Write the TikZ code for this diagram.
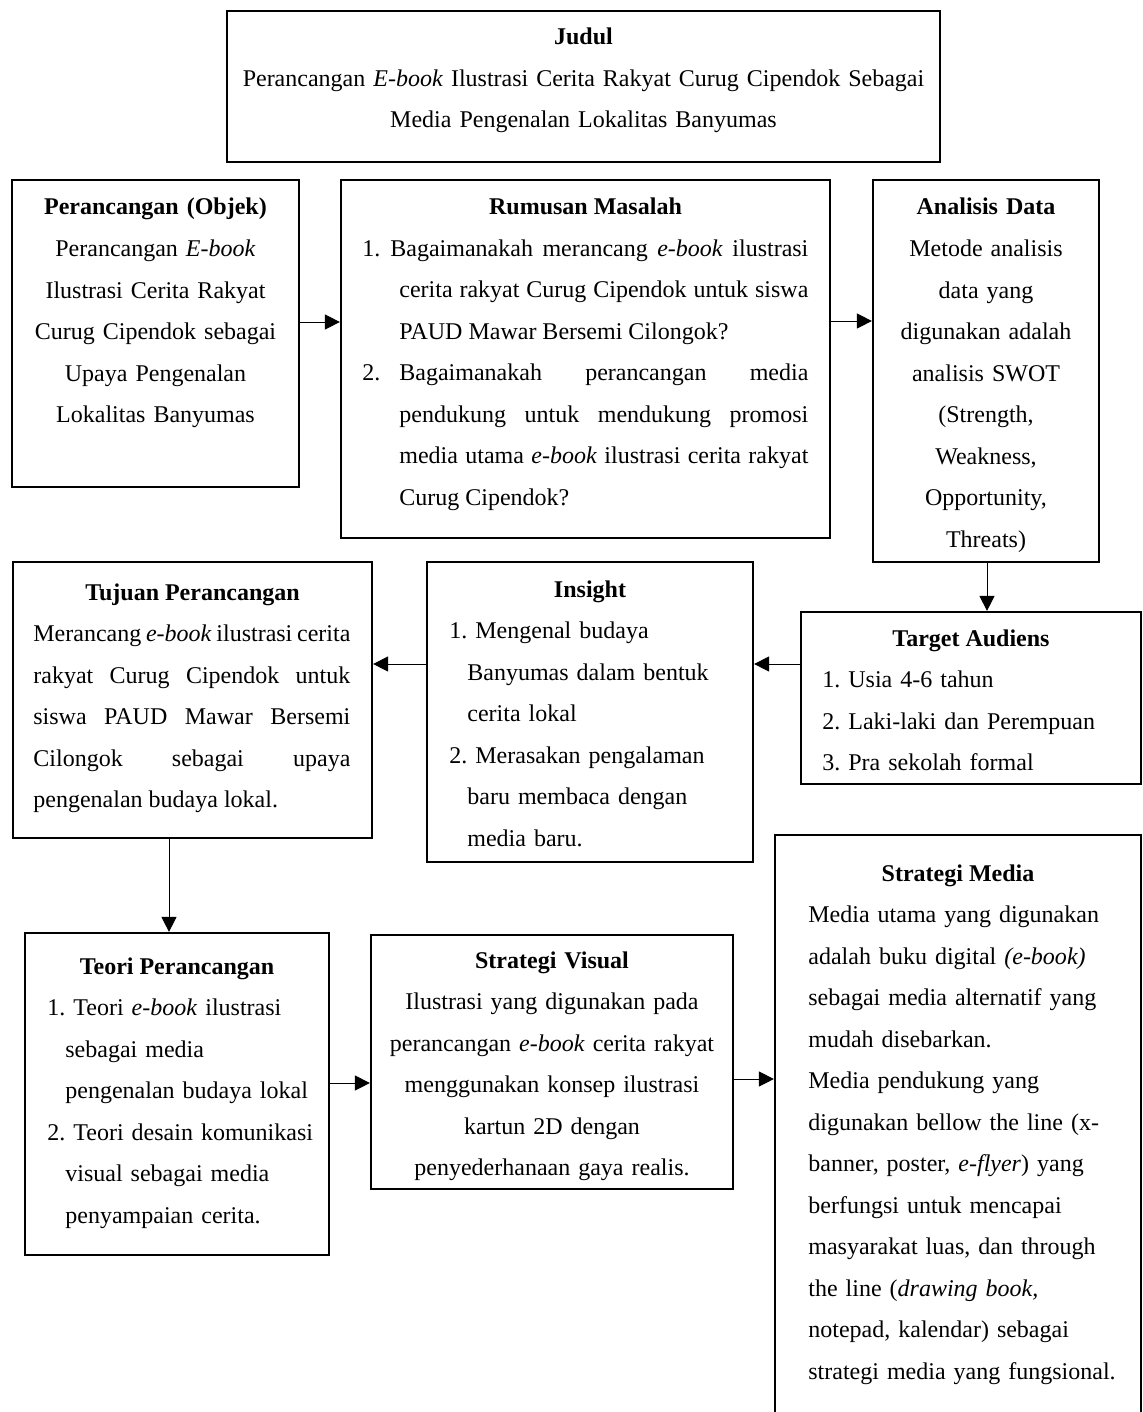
\documentclass[tikz,border=0pt]{standalone}
\usepackage{fontspec}
\setmainfont{Liberation Serif}
\usetikzlibrary{arrows.meta,fit}
\hyphenpenalty=10000
\tolerance=9999
\frenchspacing

\tikzset{
  kotak/.style={draw, line width=1.1pt, inner sep=0pt},
  isi/.style={inner sep=0pt, font=\fontsize{12pt}{20.75pt}\selectfont},
  kepala/.style={inner sep=0pt, anchor=base, font=\fontsize{12pt}{20.75pt}\selectfont\bfseries},
  panah/.style={line width=0.5pt, -{Triangle[length=7.5pt,width=7.5pt]}},
}

\begin{document}
\begin{tikzpicture}[x=0.5pt,y=0.5pt,yscale=-1,xscale=1]
\useasboundingbox (0,0) rectangle (1143,1412);

%Shape: Rectangle - judul
\node [kotak, fit={(227,11) (940,162)}] (judul) {};
%Shape: Rectangle - objek
\node [kotak, fit={(12,180) (299,487)}] (objek) {};
%Shape: Rectangle - rumusan masalah
\node [kotak, fit={(341,180) (830,538)}] (rumusan) {};
%Shape: Rectangle - analisis data
\node [kotak, fit={(873,180) (1099,562)}] (analisis) {};
%Shape: Rectangle - tujuan perancangan
\node [kotak, fit={(13,562) (372,838)}] (tujuan) {};
%Shape: Rectangle - insight
\node [kotak, fit={(427,562) (753,862)}] (insight) {};
%Shape: Rectangle - target audiens
\node [kotak, fit={(801,612) (1141,784)}] (target) {};
%Shape: Rectangle - teori perancangan
\node [kotak, fit={(25,933) (329,1255)}] (teori) {};
%Shape: Rectangle - strategi visual
\node [kotak, fit={(371,935) (733,1189)}] (visual) {};
%Shape: Rectangle - strategi media (runs off the page)
\node [kotak, fit={(775,835) (1141,1440)}] (media) {};

%Straight Lines - arrows
\draw [panah] (objek.east |- 0,322) -- (rumusan.west |- 0,322) ;
\draw [panah] (rumusan.east |- 0,321) -- (analisis.west |- 0,321) ;
\draw [panah] (analisis.south -| 987,0) -- (target.north -| 987,0) ;
\draw [panah] (target.west |- 0,664) -- (insight.east |- 0,664) ;
\draw [panah] (insight.west |- 0,664) -- (tujuan.east |- 0,664) ;
\draw [panah] (tujuan.south -| 169,0) -- (teori.north -| 169,0) ;
\draw [panah] (teori.east |- 0,1083) -- (visual.west |- 0,1083) ;
\draw [panah] (visual.east |- 0,1079) -- (media.west |- 0,1079) ;

% Text Node
\node [isi, text width=350pt, align=center, anchor=base] (judulT) at (583.5,45) {\textbf{Judul}\\Perancangan \textit{E-book} Ilustrasi Cerita Rakyat Curug Cipendok Sebagai\\Media Pengenalan Lokalitas Banyumas};
% Text Node
\node [isi, text width=140pt, align=center, anchor=base] (objekT) at (155.5,215) {\textbf{Perancangan (Objek)}\\Perancangan \textit{E-book}\\Ilustrasi Cerita Rakyat\\Curug Cipendok sebagai\\Upaya Pengenalan\\Lokalitas Banyumas};
% Text Node
\node [kepala] (rumusanH) at (585.5,215) {Rumusan Masalah};
\node [isi, text width=223pt, align=justify, anchor=base west] (rumusanT) at (362,256.5) {\hangindent=18.5pt\hangafter=1\makebox[14pt][l]{1.}Bagaimanakah merancang \textit{e-book} ilustrasi\linebreak cerita rakyat Curug Cipendok untuk siswa\linebreak PAUD Mawar Bersemi Cilongok?\par
\hangindent=18.5pt\hangafter=1\makebox[18.5pt][l]{2.}Bagaimanakah perancangan media\linebreak pendukung untuk mendukung promosi\linebreak media utama \textit{e-book} ilustrasi cerita rakyat\linebreak Curug Cipendok?\par};
% Text Node
\node [isi, text width=110pt, align=center, anchor=base] (analisisT) at (986,215) {\textbf{Analisis Data}\\Metode analisis\\data yang\\digunakan adalah\\analisis SWOT\\(Strength,\\Weakness,\\Opportunity,\\Threats)};
% Text Node
\node [kepala] (tujuanH) at (192.5,600) {Tujuan Perancangan};
\node [isi, text width=158.5pt, align=justify, anchor=base west] (tujuanT) at (33,641.5) {Merancang \textit{e-book} ilustrasi cerita\linebreak rakyat Curug Cipendok untuk\linebreak siswa PAUD Mawar Bersemi\linebreak Cilongok sebagai upaya\linebreak pengenalan budaya lokal.};
% Text Node
\node [kepala] (insightH) at (590,597) {Insight};
\node [isi, text width=145pt, align=left, anchor=base west] (insightT) at (449,638.5) {1. Mengenal budaya\\\hspace*{9pt}Banyumas dalam bentuk\\\hspace*{9pt}cerita lokal\\2. Merasakan pengalaman\\\hspace*{9pt}baru membaca dengan\\\hspace*{9pt}media baru.};
% Text Node
\node [kepala] (targetH) at (971,646) {Target Audiens};
\node [isi, text width=150pt, align=left, anchor=base west] (targetT) at (822,687.5) {1. Usia 4-6 tahun\\2. Laki-laki dan Perempuan\\3. Pra sekolah formal};
% Text Node
\node [kepala] (teoriH) at (177,974) {Teori Perancangan};
\node [isi, text width=145pt, align=left, anchor=base west] (teoriT) at (47,1015.5) {1. Teori \textit{e-book} ilustrasi\\\hspace*{9pt}sebagai media\\\hspace*{9pt}pengenalan budaya lokal\\2. Teori desain komunikasi\\\hspace*{9pt}visual sebagai media\\\hspace*{9pt}penyampaian cerita.};
% Text Node
\node [isi, text width=175pt, align=center, anchor=base] (visualT) at (552,968) {\textbf{Strategi Visual}\\Ilustrasi yang digunakan pada\\perancangan \textit{e-book} cerita rakyat\\menggunakan konsep ilustrasi\\kartun 2D dengan\\penyederhanaan gaya realis.};
% Text Node
\node [kepala] (mediaH) at (958,881) {Strategi Media};
\node [isi, text width=160pt, align=left, anchor=base west] (mediaT) at (808,922.5) {Media utama yang digunakan\\adalah buku digital \textit{(e-book)}\\sebagai media alternatif yang\\mudah disebarkan.\\Media pendukung yang\\digunakan bellow the line (x-\\banner, poster, \textit{e-flyer}) yang\\berfungsi untuk mencapai\\masyarakat luas, dan through\\the line (\textit{drawing book,}\\notepad, kalendar) sebagai\\strategi media yang fungsional.};
\end{tikzpicture}
\end{document}
